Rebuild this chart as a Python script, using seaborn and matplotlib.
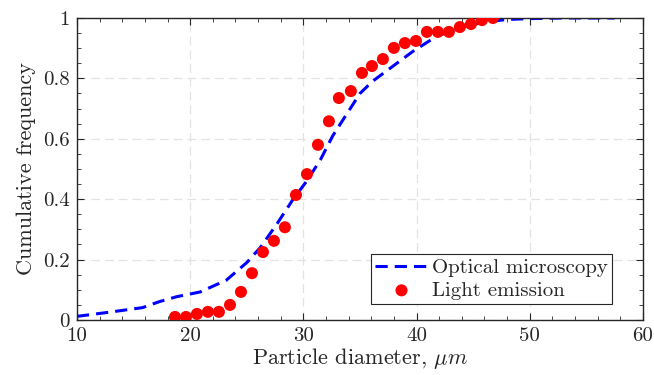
import matplotlib
matplotlib.use("Agg")
import matplotlib.pyplot as plt
import seaborn as sns
import numpy as np
import pandas as pd
from matplotlib.ticker import MultipleLocator, FuncFormatter

# Optical microscopy (dashed curve)
om_diameter = [10, 12.9, 15.8, 17.3, 18.8, 20.9, 23.2, 25.0, 26.2, 27.7, 29.1, 30.3,
               31.5, 32.6, 33.8, 35.0, 36.1, 37.9, 39.7, 41.8, 44.1, 46.0, 48.0,
               50.0, 53.0, 55.0, 57.5]
om_cumfreq = [0.012, 0.026, 0.041, 0.061, 0.077, 0.093, 0.132, 0.19, 0.24, 0.32, 0.40, 0.46,
              0.53, 0.61, 0.68, 0.75, 0.79, 0.84, 0.89, 0.94, 0.97, 0.987, 0.995,
              0.998, 1.0, 1.0, 1.0]

# Light emission (red dots)
le_diameter = [18.66, 19.63, 20.60, 21.57, 22.54, 23.52, 24.49, 25.46, 26.43, 27.40,
               28.37, 29.35, 30.32, 31.29, 32.26, 33.14, 34.2, 35.18, 36.06, 37.03,
               38.0, 38.97, 39.95, 40.92, 41.89, 42.86, 43.83, 44.81, 45.78, 46.75]
le_cumfreq = [0.01, 0.01, 0.02, 0.027, 0.027, 0.05, 0.093, 0.155, 0.225, 0.262,
              0.307, 0.414, 0.483, 0.58, 0.658, 0.735, 0.758, 0.818, 0.841, 0.864,
              0.901, 0.917, 0.924, 0.954, 0.954, 0.954, 0.970, 0.980, 0.993, 1.0]

sns.set_theme(style="ticks")
plt.rcParams['font.family'] = ['serif']
plt.rcParams['font.serif'] = ['cmr10', 'DejaVu Serif']
plt.rcParams['mathtext.fontset'] = 'cm'
plt.rcParams['axes.formatter.use_mathtext'] = True

fig = plt.figure(figsize=(6.54, 3.75), dpi=100)
ax = fig.add_axes([0.1177, 0.1467, 0.8653, 0.8053])

om = pd.DataFrame({"d": om_diameter, "f": om_cumfreq})
le = pd.DataFrame({"d": le_diameter, "f": le_cumfreq})

sns.lineplot(data=om, x="d", y="f", ax=ax, color="#0000ff", linewidth=2.2,
             label="Optical microscopy", sort=False)
ax.lines[0].set_dashes((4, 2.3))
sns.scatterplot(data=le, x="d", y="f", ax=ax, color="#ff0000", s=75,
                edgecolor="none", label="Light emission", zorder=3)

ax.set_xlim(10, 60)
ax.set_ylim(0, 1)
ax.xaxis.set_major_locator(MultipleLocator(10))
ax.xaxis.set_minor_locator(MultipleLocator(2))
ax.yaxis.set_major_locator(MultipleLocator(0.2))
ax.yaxis.set_minor_locator(MultipleLocator(0.05))
ax.yaxis.set_major_formatter(FuncFormatter(lambda v, p: f"{v:g}"))
ax.xaxis.set_major_formatter(FuncFormatter(lambda v, p: f"{v:g}"))

ax.grid(True, which="major", color="#e3e3e3", linestyle=(0, (7, 4)), linewidth=0.9)
ax.set_axisbelow(True)
for s in ax.spines.values():
    s.set_visible(True)
    s.set_color("#262626")
    s.set_linewidth(1.0)
ax.tick_params(which="both", direction="in", top=True, right=True, colors="#262626",
               labelsize=15, labelcolor="#262626")
ax.tick_params(which="major", length=5, width=0.8, pad=5)
ax.tick_params(which="minor", length=3, width=0.6)

ax.set_xlabel(r"Particle diameter, $\mu m$", fontsize=16, color="#262626", labelpad=1)
ax.set_ylabel("Cumulative frequency", fontsize=16, color="#262626", labelpad=5)

leg = ax.legend(loc="lower right", bbox_to_anchor=(0.945, 0.053), fontsize=15,
                frameon=True, fancybox=False, framealpha=1, edgecolor="#262626",
                borderpad=0.2, labelspacing=0.2, handlelength=2.5, handletextpad=0.2,
                borderaxespad=0)
leg.get_frame().set_linewidth(0.8)

fig.savefig("out.png", dpi=100)
